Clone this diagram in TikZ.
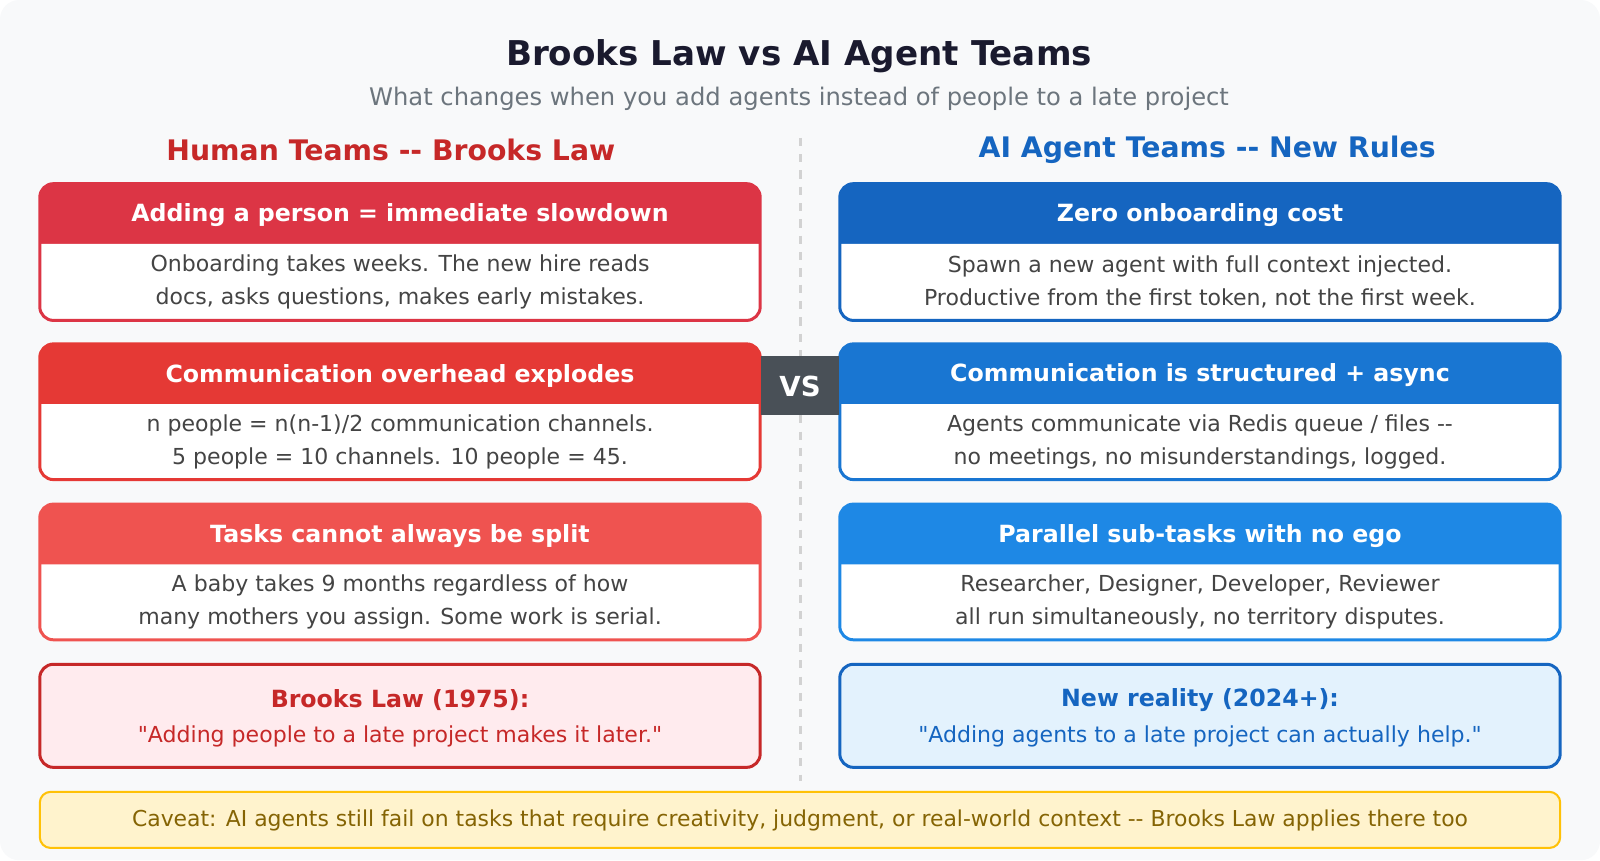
\documentclass[tikz,border=0pt]{standalone}
\usepackage{fontspec}
\setmainfont[Ligatures=ResetAll]{DejaVu Sans}
\begin{document}
\begin{tikzpicture}[x=0.75pt,y=-0.75pt]
\definecolor{bg}{HTML}{F8F9FA}
\definecolor{ttl}{HTML}{1A1A2E}
\definecolor{sub}{HTML}{6C757D}
\definecolor{lc}{HTML}{C62828}
\definecolor{rc}{HTML}{1565C0}
\definecolor{la}{HTML}{DC3545}
\definecolor{lb}{HTML}{E53935}
\definecolor{lcc}{HTML}{EF5350}
\definecolor{ra}{HTML}{1565C0}
\definecolor{rb}{HTML}{1976D2}
\definecolor{rcc}{HTML}{1E88E5}
\definecolor{body}{HTML}{444444}
\definecolor{vsc}{HTML}{495057}
\newcommand\dd{-{}-}
\newcommand\qq{\XeTeXglyph\XeTeXcharglyph"22\relax}
\tikzset{
 hd/.style={text=white,font=\bfseries\fontsize{17.4}{20}\selectfont},
 bd/.style={text=body,font=\fontsize{16.2}{24}\selectfont,align=center},
}
\newcommand\card[9]{% x1 y1 x2 y2 color name header line1 line2
 \fill[#5,rounded corners=10] (#1,#2) rectangle (#3,#4);
 \fill[white] (#1,#2+59) [rounded corners=10]-- (#1,#4) -- (#3,#4) [sharp corners]-- (#3,#2+59) -- cycle;
 \draw[#5,line width=2.2pt,rounded corners=10] (#1,#2) rectangle (#3,#4);
 \node[hd] (#6h) at ({(#1+#3)/2},#2+31) {#7};
 \node[bd] (#6b) at ({(#1+#3)/2},#2+96) {#8\\#9};
}
\fill[bg,rounded corners=14] (0,0) rectangle (1568,843);
\useasboundingbox (0,0) rectangle (1568,843);
\node[text=ttl,font=\bfseries\fontsize{25.1}{28}\selectfont] (title) at (783,55) {Brooks Law vs AI Agent Teams};
\node[text=sub,font=\fontsize{17.8}{20}\selectfont] (subt) at (783,97) {What changes when you add agents instead of people to a late project};
\node[text=lc,font=\bfseries\fontsize{20.8}{24}\selectfont] (lhead) at (383,147) {Human Teams \dd\ Brooks Law};
\node[text=rc,font=\bfseries\fontsize{20.8}{24}\selectfont] (rhead) at (1183,147) {AI Agent Teams \dd\ New Rules};
\draw[draw=gray!35,line width=2.2pt,dash pattern=on 6pt off 6pt] (784,135) -- (784,765);
\card{39}{180}{745}{314}{la}{l1}{Adding a person = immediate slowdown}{Onboarding takes weeks. The new hire reads}{docs, asks questions, makes early mistakes.}
\card{39}{337}{745}{470}{lb}{l2}{Communication overhead explodes}{n people = n(n-1)/2 communication channels.}{5 people = 10 channels. 10 people = 45.}
\card{39}{494}{745}{627}{lcc}{l3}{Tasks cannot always be split}{A baby takes 9 months regardless of how}{many mothers you assign. Some work is serial.}
\card{823}{180}{1529}{314}{ra}{r1}{Zero onboarding cost}{Spawn a new agent with full context injected.}{Productive from the first token, not the first week.}
\card{823}{337}{1529}{470}{rb}{r2}{Communication is structured + async}{Agents communicate via Redis queue / files \dd}{no meetings, no misunderstandings, logged.}
\card{823}{494}{1529}{627}{rcc}{r3}{Parallel sub-tasks with no ego}{Researcher, Designer, Developer, Reviewer}{all run simultaneously, no territory disputes.}
\fill[vsc] (746,349) rectangle (822,407);
\node[text=white,font=\bfseries\fontsize{20.3}{24}\selectfont] (vs) at (784,379) {VS};
\draw[lc,fill={rgb,255:red,255;green,235;blue,238},line width=2.2pt,rounded corners=10] (39,651) rectangle (745,752);
\node[text=lc,font=\bfseries\fontsize{17.4}{20}\selectfont] (lq1) at (392,686) {Brooks Law (1975):};
\node[text=lc,font=\fontsize{16.2}{18}\selectfont] (lq2) at (392,722) {\qq Adding people to a late project makes it later.\qq};
\draw[rc,fill={rgb,255:red,227;green,242;blue,253},line width=2.2pt,rounded corners=10] (823,651) rectangle (1529,752);
\node[text=rc,font=\bfseries\fontsize{17.4}{20}\selectfont] (rq1) at (1176,686) {New reality (2024+):};
\node[text=rc,font=\fontsize{16.2}{18}\selectfont] (rq2) at (1176,722) {\qq Adding agents to a late project can actually help.\qq};
\draw[draw={rgb,255:red,255;green,193;blue,7},fill={rgb,255:red,255;green,243;blue,205},line width=1.5pt,rounded corners=8] (39,776) rectangle (1529,831);
\node[text={rgb,255:red,133;green,100;blue,4},font=\fontsize{16.1}{18}\selectfont] (cav) at (784,804) {Caveat: AI agents still fail on tasks that require creativity, judgment, or real-world context \dd\ Brooks Law applies there too};
\end{tikzpicture}
\end{document}
